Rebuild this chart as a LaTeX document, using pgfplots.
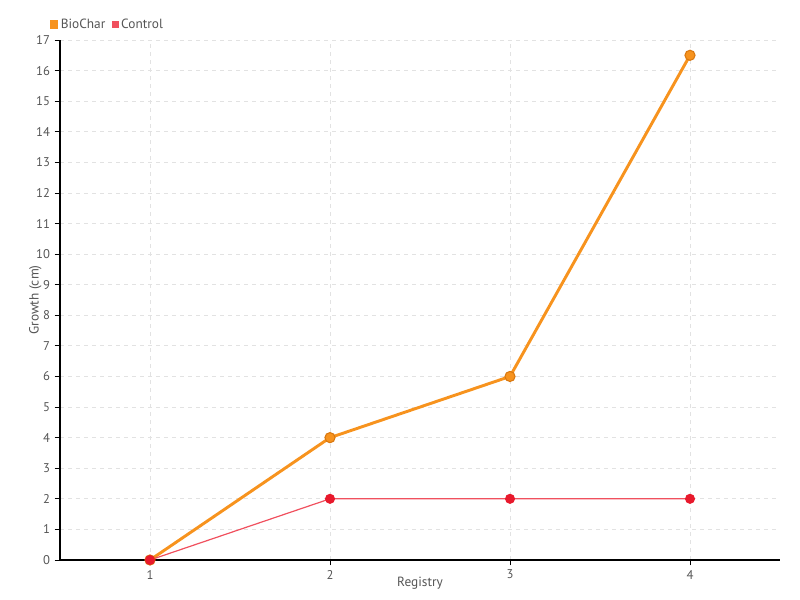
\documentclass[border=0pt]{standalone}
\usepackage{pgfplots}
\pgfplotsset{compat=1.18}
\usepackage{fontspec}
\setmainfont{PT Sans}
\definecolor{txt}{HTML}{555555}
\definecolor{bio}{HTML}{F7931E}
\definecolor{biodark}{HTML}{D9780F}
\definecolor{ctrl}{HTML}{E8192C}
\definecolor{ctrlline}{HTML}{F0505E}
\definecolor{gridc}{HTML}{E2E2E2}
\begin{document}
\begin{tikzpicture}
\useasboundingbox (0,0) rectangle (600pt,450pt);
\begin{axis}[
  at={(45pt,30pt)}, anchor=south west,
  scale only axis, width=540pt, height=390pt,
  xmin=0.5, xmax=4.5, ymin=0, ymax=17,
  xtick={1,2,3,4}, ytick={0,1,...,17},
  axis x line*=bottom, axis y line*=left,
  axis line style={black, line width=0.8pt, -},
  tick style={black, line width=0.6pt},
  tick align=outside, major tick length=4pt,
  grid=major,
  major grid style={gridc, dashed, line width=0.6pt},
  tick label style={font=\fontsize{9.5}{10}\selectfont, text=txt},
  /pgf/number format/assume math mode=true,
  xlabel={Registry}, ylabel={Growth (cm)},
  label style={font=\fontsize{10}{11}\selectfont, text=txt},
  xlabel style={yshift=8pt},
  ylabel style={yshift=-11pt},
  clip=false,
  legend columns=2,
  legend style={at={(-0.02,1.008)}, anchor=south west, draw=none, fill=none,
    font=\fontsize{10}{11}\selectfont, text=txt,
    /tikz/every even column/.append style={column sep=3pt}},
  legend image code/.code={\fill[#1] (1pt,-2pt) rectangle (5pt,2pt);},
]
\addplot[bio, line width=2.2pt, mark=*, mark size=3.8pt,
  mark options={fill=bio, draw=biodark, line width=0.8pt}] coordinates {(1,0) (2,4) (3,6) (4,16.5)};
\addlegendentry{BioChar}
\addplot[ctrlline, line width=0.9pt, mark=*, mark size=3.3pt,
  mark options={fill=ctrl, draw=ctrl}] coordinates {(1,0) (2,2) (3,2) (4,2)};
\addlegendentry{Control}
\end{axis}
\end{tikzpicture}
\end{document}
